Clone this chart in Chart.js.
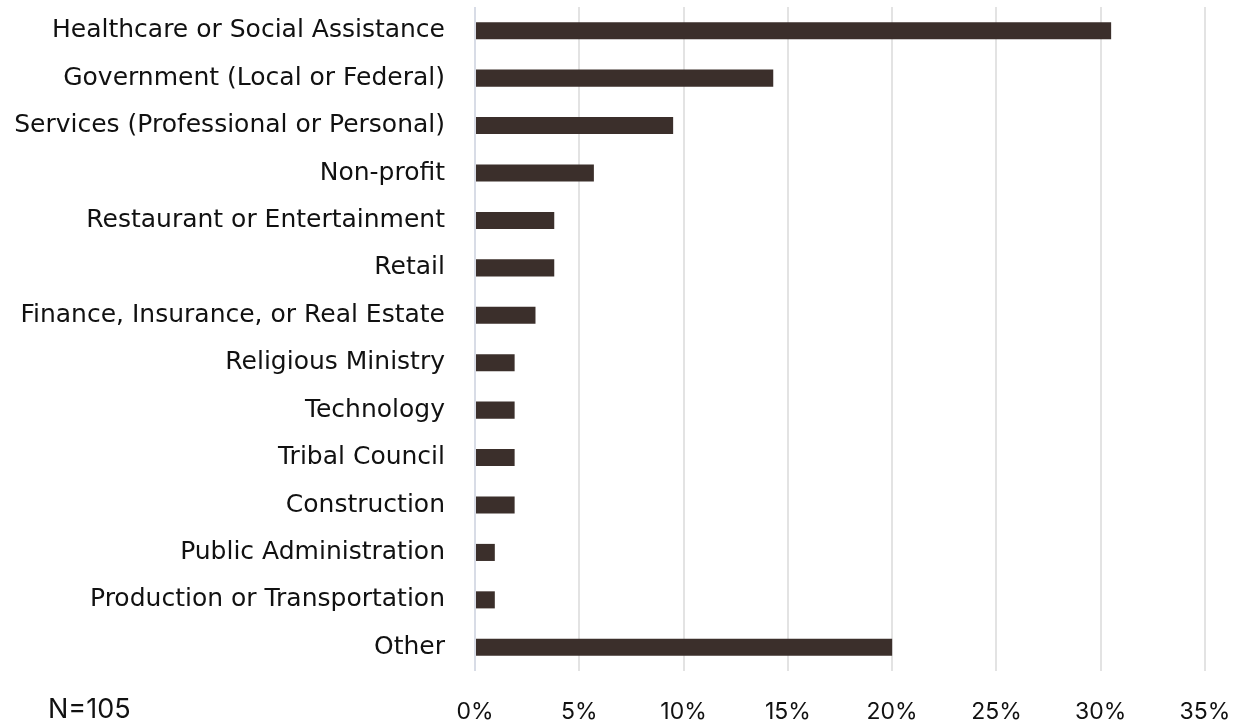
<!DOCTYPE html>
<html>
<head>
<meta charset="utf-8">
<script src="https://cdn.jsdelivr.net/npm/chart.js@4"></script>
<style>
  html, body { margin: 0; padding: 0; background: #fff; }
  #wrap { position: relative; width: 1239px; height: 727px; }
</style>
</head>
<body>
<div id="wrap"><canvas id="c" width="1239" height="727"></canvas></div>
<script>
// Industry of employment, share of respondents
const categories = [
  'Healthcare or Social Assistance',
  'Government (Local or Federal)',
  'Services (Professional or Personal)',
  'Non-profit',
  'Restaurant or Entertainment',
  'Retail',
  'Finance, Insurance, or Real Estate',
  'Religious Ministry',
  'Technology',
  'Tribal Council',
  'Construction',
  'Public Administration',
  'Production or Transportation',
  'Other'
];
const shares = [30.5, 14.3, 9.5, 5.7, 3.8, 3.8, 2.9, 1.9, 1.9, 1.9, 1.9, 0.95, 0.95, 20.0];
const sampleNote = 'N=105';

const labelFont = "'DejaVu Sans', 'Open Sans', sans-serif";
const tickFont = "'Inter', 'Open Sans', sans-serif";

const notePlugin = {
  id: 'sampleNote',
  afterDraw(chart) {
    const ctx = chart.ctx;
    ctx.save();
    ctx.font = "27px " + tickFont;
    ctx.fillStyle = '#111';
    ctx.textBaseline = 'alphabetic';
    ctx.textAlign = 'left';
    ctx.fillText(sampleNote, 48, 718);
    ctx.restore();
  }
};

new Chart(document.getElementById('c'), {
  type: 'bar',
  data: {
    labels: categories,
    datasets: [{
      data: shares,
      backgroundColor: '#3b2f2b',
      borderWidth: 0,
      categoryPercentage: 1,
      barPercentage: 0.36
    }]
  },
  plugins: [notePlugin],
  options: {
    indexAxis: 'y',
    responsive: false,
    animation: false,
    layout: { autoPadding: false, padding: { top: 7, right: 34, bottom: 0, left: 0 } },
    plugins: { legend: { display: false }, tooltip: { enabled: false } },
    scales: {
      x: {
        min: 0, max: 35,
        afterFit(scale) {
          scale.height = 56;
          scale.paddingLeft = 0;
          scale.paddingRight = 0;
        },
        ticks: {
          stepSize: 5,
          padding: 27,
          color: '#111',
          font: { family: tickFont, size: 23 },
          callback: v => v + '%'
        },
        grid: {
          drawTicks: false,
          lineWidth: 2,
          color: ctx => ctx.index === 0 ? '#d8dce6' : '#e3e3e3'
        },
        border: { display: false }
      },
      y: {
        afterFit(scale) {
          scale.width = 475;
          scale.paddingTop = 0;
          scale.paddingBottom = 0;
        },
        ticks: {
          padding: 30,
          color: '#111',
          font: { family: labelFont, size: 25 }
        },
        grid: { display: false, drawTicks: false },
        border: { display: false }
      }
    }
  }
});
</script>
</body>
</html>
